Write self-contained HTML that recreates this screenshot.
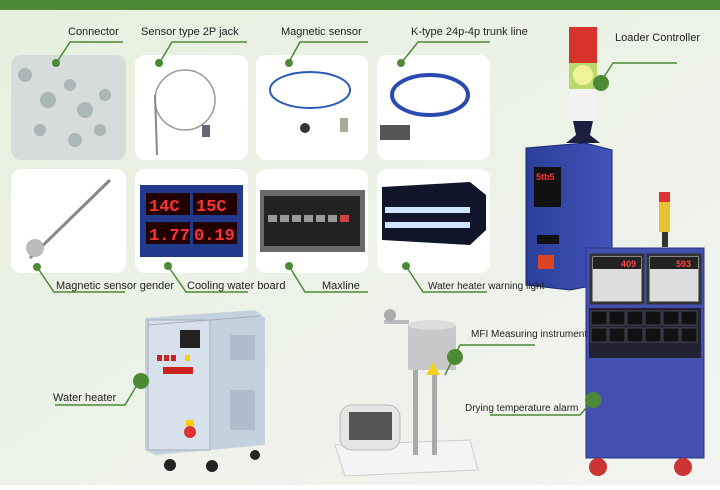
<!DOCTYPE html>
<html><head><style>
body{margin:0;width:720px;height:485px;overflow:hidden;font-family:"Liberation Sans",sans-serif;}
</style></head><body>
<svg width="720" height="485" xmlns="http://www.w3.org/2000/svg" font-family="Liberation Sans, sans-serif" font-size="11" fill="#222">
<defs>
<linearGradient id="bg" x1="0" y1="0" x2="1" y2="1"><stop offset="0" stop-color="#e6efdc"/><stop offset="0.6" stop-color="#eef2ea"/><stop offset="1" stop-color="#f3f4f1"/></linearGradient>
<linearGradient id="blu" x1="0" x2="1"><stop offset="0" stop-color="#2a3f9a"/><stop offset="1" stop-color="#4254b8"/></linearGradient>
</defs>
<rect width="720" height="485" fill="url(#bg)"/>
<rect width="720" height="10" fill="#4d8a35"/>
<g fill="#fff">
<rect x="11" y="55" width="115" height="105" rx="10" fill="#d6dcdc"/>
<rect x="135" y="55" width="113" height="105" rx="10"/>
<rect x="256" y="55" width="112" height="105" rx="10"/>
<rect x="377" y="55" width="113" height="105" rx="10"/>
<rect x="11" y="169" width="115" height="104" rx="10"/>
<rect x="135" y="169" width="113" height="104" rx="10"/>
<rect x="256" y="169" width="112" height="104" rx="10"/>
<rect x="377" y="169" width="113" height="104" rx="10"/>
</g>
<g fill="#a9b8b6"><circle cx="25" cy="75" r="7"/><circle cx="48" cy="100" r="8"/><circle cx="70" cy="85" r="6"/><circle cx="85" cy="110" r="8"/><circle cx="105" cy="95" r="6"/><circle cx="40" cy="130" r="6"/><circle cx="75" cy="140" r="7"/><circle cx="100" cy="130" r="6"/></g>
<ellipse cx="185" cy="100" rx="30" ry="30" fill="none" stroke="#999" stroke-width="1.5"/>
<line x1="155" y1="95" x2="157" y2="155" stroke="#888" stroke-width="2"/>
<rect x="202" y="125" width="8" height="12" fill="#667"/>
<ellipse cx="310" cy="90" rx="40" ry="18" fill="none" stroke="#2a5ab8" stroke-width="2"/>
<rect x="340" y="118" width="8" height="14" fill="#aa9"/><circle cx="305" cy="128" r="5" fill="#333"/>
<ellipse cx="430" cy="95" rx="38" ry="20" fill="none" stroke="#2a4ab0" stroke-width="4"/>
<rect x="380" y="125" width="30" height="15" fill="#555"/>
<line x1="30" y1="258" x2="110" y2="180" stroke="#888" stroke-width="3"/><circle cx="35" cy="248" r="9" fill="#bbb"/>
<rect x="140" y="185" width="103" height="72" fill="#223a8e"/>
<g fill="#200"><rect x="146" y="193" width="44" height="22"/><rect x="193" y="193" width="44" height="22"/><rect x="146" y="222" width="44" height="22"/><rect x="193" y="222" width="44" height="22"/></g>
<g fill="#f33" font-size="17" font-family="Liberation Mono,monospace" font-weight="bold"><text x="149" y="211">14C</text><text x="196" y="211">15C</text><text x="149" y="240">1.77</text><text x="194" y="240">0.19</text></g>
<rect x="260" y="190" width="105" height="62" fill="#6a6a66"/><rect x="264" y="196" width="96" height="50" fill="#222"/>
<g fill="#999"><rect x="268" y="215" width="9" height="7"/><rect x="280" y="215" width="9" height="7"/><rect x="292" y="215" width="9" height="7"/><rect x="304" y="215" width="9" height="7"/><rect x="316" y="215" width="9" height="7"/><rect x="328" y="215" width="9" height="7"/></g><rect x="340" y="215" width="9" height="7" fill="#c44"/>
<polygon points="382,187 470,182 486,195 486,230 470,245 382,240" fill="#10152a"/>
<rect x="385" y="207" width="85" height="6" fill="#cfe4ff"/><rect x="385" y="222" width="85" height="6" fill="#cfe4ff"/>
<!-- loader controller -->
<rect x="569" y="27" width="28" height="36" fill="#d8322c"/><rect x="569" y="63" width="28" height="26" fill="#b9d96a"/><circle cx="583" cy="75" r="10" fill="#f0f39a"/>
<rect x="569" y="89" width="28" height="32" fill="#f2f2f2"/>
<path d="M573 121 h20 l-3 14 l10 8 h-34 l10-8z" fill="#1c2040"/>
<polygon points="526,148 585,143 612,150 612,282 570,290 526,285" fill="url(#blu)" stroke="#1c2a70"/>
<rect x="534" y="167" width="27" height="40" fill="#111"/><text x="536" y="180" fill="#f33" font-size="9" font-weight="bold">5tb5</text>
<rect x="537" y="235" width="22" height="9" fill="#111"/><rect x="538" y="255" width="16" height="14" fill="#d42"/>
<!-- dryer -->
<rect x="659" y="192" width="11" height="40" fill="#e8c030"/><rect x="659" y="192" width="11" height="10" fill="#d33"/><rect x="662" y="232" width="6" height="15" fill="#333"/>
<rect x="586" y="248" width="118" height="210" fill="#4350b0" stroke="#2a3580"/>
<rect x="591" y="255" width="52" height="48" fill="#ddd" stroke="#333" stroke-width="3"/><rect x="648" y="255" width="52" height="48" fill="#ddd" stroke="#333" stroke-width="3"/>
<rect x="593" y="257" width="48" height="12" fill="#222"/><rect x="650" y="257" width="48" height="12" fill="#222"/>
<text x="621" y="267" fill="#f44" font-size="9" font-weight="bold">409</text><text x="676" y="267" fill="#f44" font-size="9" font-weight="bold">593</text>
<rect x="589" y="308" width="112" height="50" fill="#223"/>
<g fill="#111" stroke="#667" stroke-width="0.6"><rect x="591" y="311" width="16" height="14"/><rect x="609" y="311" width="16" height="14"/><rect x="627" y="311" width="16" height="14"/><rect x="645" y="311" width="16" height="14"/><rect x="663" y="311" width="16" height="14"/><rect x="681" y="311" width="16" height="14"/>
<rect x="591" y="328" width="16" height="14"/><rect x="609" y="328" width="16" height="14"/><rect x="627" y="328" width="16" height="14"/><rect x="645" y="328" width="16" height="14"/><rect x="663" y="328" width="16" height="14"/><rect x="681" y="328" width="16" height="14"/></g>
<circle cx="598" cy="467" r="9" fill="#c33"/><circle cx="683" cy="467" r="9" fill="#c33"/>
<!-- water heater -->
<polygon points="145,318 255,310 265,318 265,445 155,455 145,450" fill="#c4d2e0"/>
<rect x="148" y="320" width="62" height="130" fill="#d6e1ec" stroke="#aab"/>
<line x1="148" y1="325" x2="260" y2="316" stroke="#aab"/>
<rect x="230" y="335" width="25" height="25" fill="#b0bccb"/><rect x="230" y="390" width="25" height="40" fill="#b0bccb"/>
<rect x="180" y="330" width="20" height="18" fill="#222"/>
<g fill="#c22"><rect x="157" y="355" width="5" height="6"/><rect x="164" y="355" width="5" height="6"/><rect x="171" y="355" width="5" height="6"/><rect x="185" y="355" width="5" height="6" fill="#fc0"/></g>
<rect x="163" y="367" width="30" height="7" fill="#c22"/>
<circle cx="190" cy="432" r="6" fill="#d33"/><rect x="186" y="420" width="8" height="6" fill="#fc0"/>
<circle cx="170" cy="465" r="6" fill="#222"/><circle cx="212" cy="466" r="6" fill="#222"/><circle cx="255" cy="455" r="5" fill="#222"/>
<!-- MFI -->
<polygon points="335,445 470,440 478,470 345,476" fill="#f4f4f4" stroke="#ccc"/>
<rect x="340" y="405" width="60" height="45" rx="12" fill="#e6e6e6" stroke="#bbb"/><rect x="349" y="412" width="43" height="28" fill="#555"/>
<rect x="413" y="370" width="5" height="85" fill="#aaa"/><rect x="432" y="370" width="5" height="85" fill="#aaa"/>
<rect x="408" y="325" width="48" height="45" fill="#c8c8c8"/><ellipse cx="432" cy="325" rx="24" ry="5" fill="#ddd"/>
<polygon points="433,362 426,375 440,375" fill="#f5d020"/>
<rect x="384" y="320" width="25" height="4" fill="#bbb"/><circle cx="390" cy="315" r="6" fill="#aaa"/>
<!-- connectors & labels -->
<g stroke="#4d8a35" stroke-width="1.5" fill="none">
<polyline points="123,42 70,42 57,62"/><polyline points="247,42 172,42 160,62"/><polyline points="368,42 300,42 289,62"/><polyline points="490,42 418,42 402,62"/>
<polyline points="677,63 613,63 600,83"/>
<polyline points="37,267 54,292 125,292"/><polyline points="168,266 186,292 248,292"/><polyline points="289,266 305,292 368,292"/><polyline points="406,266 423,292 487,292"/>
<polyline points="55,405 125,405 140,380"/>
<polyline points="460,345 535,345"/><polyline points="460,345 445,375"/>
<polyline points="490,415 580,415 593,400"/>
</g>
<g fill="#4d8a35"><circle cx="56" cy="63" r="4"/><circle cx="159" cy="63" r="4"/><circle cx="289" cy="63" r="4"/><circle cx="401" cy="63" r="4"/>
<circle cx="37" cy="267" r="4"/><circle cx="168" cy="266" r="4"/><circle cx="289" cy="266" r="4"/><circle cx="406" cy="266" r="4"/>
<circle cx="601" cy="83" r="8"/><circle cx="593" cy="400" r="8"/><circle cx="141" cy="381" r="8"/><circle cx="455" cy="357" r="8"/></g>
<g font-size="11"><text x="68" y="35">Connector</text><text x="141" y="35">Sensor type 2P jack</text><text x="281" y="35">Magnetic sensor</text><text x="411" y="35">K-type 24p-4p trunk line</text>
<text x="56" y="289">Magnetic sensor gender</text><text x="187" y="289">Cooling water board</text><text x="322" y="289">Maxline</text><text x="428" y="289" font-size="10">Water heater warning light</text>
<text x="615" y="41">Loader Controller</text><text x="53" y="401">Water heater</text><text x="471" y="337" font-size="10">MFI Measuring instrument</text><text x="465" y="411" font-size="10">Drying temperature alarm</text></g>
</svg>
</body></html>
